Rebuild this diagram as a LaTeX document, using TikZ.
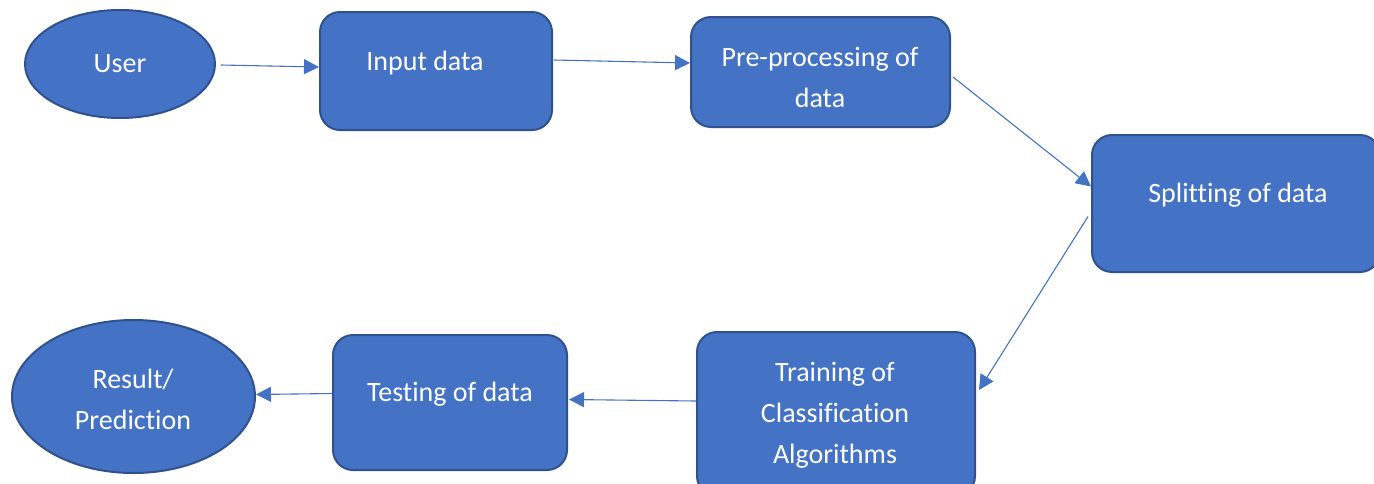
\documentclass[tikz,border=0pt]{standalone}
\usepackage{fontspec}
\setmainfont[Ligatures=NoCommon]{Carlito}
\usetikzlibrary{shapes.geometric,arrows.meta,calc}
\definecolor{boxfill}{HTML}{4472C4}
\definecolor{boxline}{HTML}{2F528F}
\begin{document}
\begin{tikzpicture}[x=1pt,y=-1pt,
  shapebase/.style={draw=boxline,fill=boxfill,line width=2pt,inner sep=0pt},
  roundbox/.style={shapebase,rectangle,rounded corners=20pt},
  oval/.style={shapebase,ellipse},
  lbl/.style={text=white,font=\fontsize{28}{41}\selectfont,align=center,inner sep=0pt},
  flow/.style={draw=boxfill,line width=1.1pt,-{Triangle[length=15pt,width=15pt]}}]
\useasboundingbox (0,0) rectangle (1374,483);
% shapes
\node[oval,minimum width=190,minimum height=108] (user) at (120,64) {};
\node[roundbox,minimum width=232,minimum height=118] (input) at (436,71) {};
\node[roundbox,minimum width=259,minimum height=110] (pre) at (820.5,72) {};
\node[roundbox,minimum width=288,minimum height=137] (split) at (1236,203.5) {};
\node[roundbox,minimum width=278,minimum height=164] (train) at (836,414) {};
\node[roundbox,minimum width=234,minimum height=135] (test) at (450,402.5) {};
\node[oval,minimum width=243,minimum height=153] (result) at (133.5,396.5) {};
% texts
\node[lbl] (tuser) at (120,64) {User};
\node[lbl] (tinput) at (425,63) {Input data};
\node[lbl] (tpre) at (820,77) {Pre-processing of\\data};
\node[lbl] (tsplit) at (1238,195) {Splitting of data};
\node[lbl] (ttrain) at (835,415) {Training of\\Classification\\Algorithms};
\node[lbl] (ttest) at (450,394) {Testing of data};
\node[lbl] (tresult) at (133,399) {Result/\\Prediction};
% connectors
\draw[flow] ($(user.east)+(5,1)$) -- ($(input.west)+(0,-4)$);
\draw[flow] ($(input.east)+(1,-11)$) -- ($(pre.west)+(0,-9)$);
\draw[flow] ($(pre.east)+(2,5)$) -- ($(split.west)+(0,-17)$);
\draw[flow] ($(split.west)+(-3,13)$) -- ($(train.east)+(3,-24)$);
\draw[flow] ($(train.west)+(0,-13)$) -- ($(test.east)+(1,-3)$);
\draw[flow] ($(test.west)+(0,-9)$) -- ($(result.east)+(0,-2)$);
\end{tikzpicture}
\end{document}
